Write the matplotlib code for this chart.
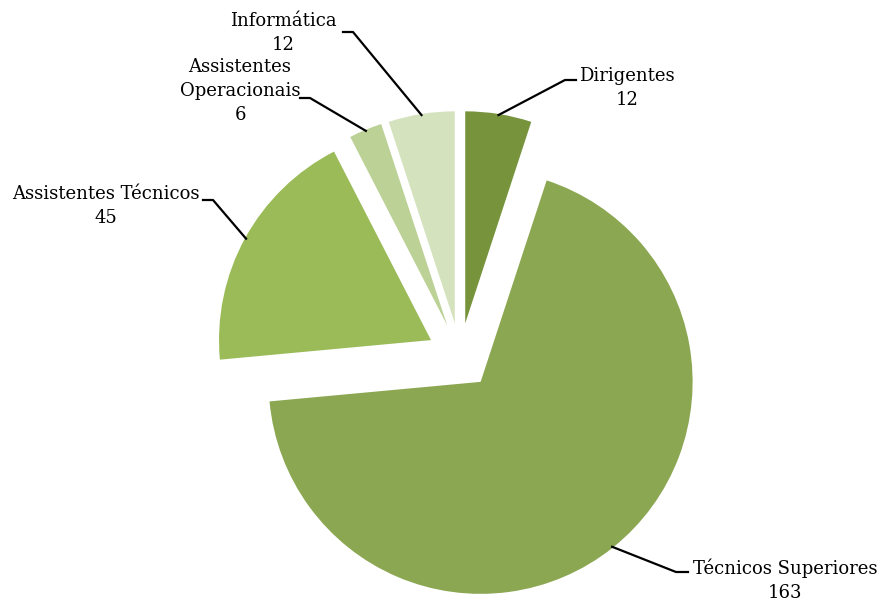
import numpy as np
import matplotlib.pyplot as plt

categorias = ['Dirigentes', 'Técnicos Superiores', 'Assistentes Técnicos',
              'Assistentes\nOperacionais', 'Informática']
valores = [12, 163, 45, 6, 12]
cores = ['#77933C', '#8CA752', '#9BBB59', '#BCD196', '#D5E2BE']

# pixel geometry of the pie (reference image is 880x604)
W, H = 880, 604
R = 212.0
cx, cy = 460.0, 356.0
explode = 0.156

fig = plt.figure(figsize=(W / 100, H / 100), dpi=100)
ax = fig.add_axes([0, 0, 1, 1])

wedges, _ = ax.pie(valores, colors=cores, startangle=90, counterclock=False,
                   explode=[explode] * len(valores), radius=1.0,
                   wedgeprops=dict(linewidth=0))

ax.set_xlim(-cx / R, (W - cx) / R)
ax.set_ylim((cy - H) / R, cy / R)
ax.set_aspect('auto')
ax.axis('off')


def px(x, y):
    return (x - cx) / R, (cy - y) / R


# label text centre, elbow point, text-side point (pixels)
layout = {
    'Dirigentes': ((627, 88), (565, 80), (576, 80)),
    'Técnicos Superiores': ((785, 580), (676, 572), (688, 572)),
    'Assistentes Técnicos': ((106, 206), (213, 200), (203, 200)),
    'Assistentes\nOperacionais': ((240, 91), (310, 98), (300, 98)),
    'Informática': ((283, 33), (353, 32), (343, 32)),
}

for w, nome, v in zip(wedges, categorias, valores):
    ang = np.deg2rad((w.theta1 + w.theta2) / 2)
    xc, yc = w.center
    p0 = (xc + 0.995 * np.cos(ang), yc + 0.995 * np.sin(ang))
    (tx, ty), elbow, tside = layout[nome]
    e = px(*elbow)
    s = px(*tside)
    ax.plot([p0[0], e[0], s[0]], [p0[1], e[1], s[1]], color='black', lw=1.6)
    ax.text(*px(tx, ty), f'{nome}\n{v}', ha='center', va='center',
            fontsize=13, family='DejaVu Serif', linespacing=1.4)

fig.savefig('out.png', dpi=100)
